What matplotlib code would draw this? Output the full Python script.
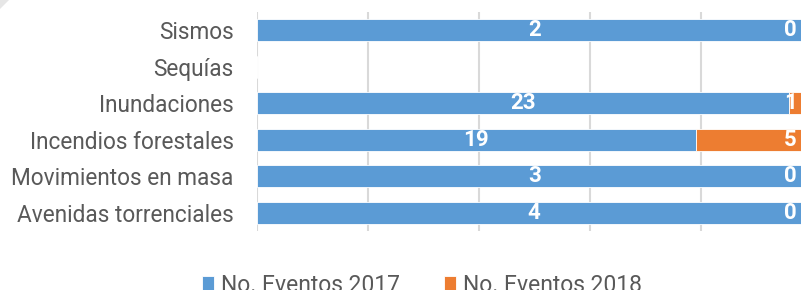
import matplotlib.pyplot as plt
from matplotlib.patches import Polygon
import numpy as np

# data (bottom to top as drawn)
categorias = ["Avenidas torrenciales", "Movimientos en masa", "Incendios forestales",
              "Inundaciones", "Sequías", "Sismos"]
eventos_2017 = [4, 3, 19, 23, 0, 2]
eventos_2018 = [0, 0, 5, 1, 0, 0]
series_labels = ["No. Eventos 2017", "No. Eventos 2018"]

azul = "#5b9bd5"
naranja = "#ed7d31"
gris = "#595959"

plt.rcParams['font.family'] = ['Roboto', 'DejaVu Sans']

fig = plt.figure(figsize=(8.01, 2.90), dpi=100)
# corner of the chart frame in the top-left
fig.patches.append(Polygon([[0, 1], [9 / 801, 1], [0, 1 - 9 / 290]], closed=True,
                           transform=fig.transFigure, facecolor="#e6e6e6",
                           edgecolor="none"))
ax = fig.add_axes([256.5 / 801, 59 / 290, 555.5 / 801, 219 / 290])

a = np.array(eventos_2017, dtype=float)
b = np.array(eventos_2018, dtype=float)
total = a + b
with np.errstate(invalid="ignore", divide="ignore"):
    pa = np.where(total > 0, a / total, 0)
    pb = np.where(total > 0, b / total, 0)

y = np.arange(len(categorias))
ax.barh(y, pa, height=0.6, color=azul, edgecolor="white", linewidth=0.6, zorder=2,
        label=series_labels[0])
ax.barh(y, pb, left=pa, height=0.6, color=naranja, edgecolor="white", linewidth=0.6,
        zorder=2, label=series_labels[1])

for i in range(len(categorias)):
    if total[i] == 0:
        continue
    ax.text(pa[i] / 2, y[i], str(eventos_2017[i]), ha="center", va="center",
            color="white", fontsize=16, fontweight="bold", zorder=3)
    ax.annotate(str(eventos_2018[i]), xy=(pa[i] + pb[i], y[i]), xytext=(-11, 0),
                textcoords="offset points", ha="right", va="center",
                color="white", fontsize=16, fontweight="bold", zorder=3)

ax.set_xlim(0, 1)
ax.set_ylim(-0.5, len(categorias) - 0.5)
ax.set_xticks(np.arange(0, 1.01, 0.2))
ax.xaxis.grid(True, color="#d9d9d9", linewidth=1.5, zorder=0)
ax.set_axisbelow(True)
ax.tick_params(axis="x", length=0, labelbottom=False)
ax.tick_params(axis="y", length=0, pad=16.5, labelsize=16.3, labelcolor=gris)
ax.set_yticks(y)
ax.set_yticklabels(categorias)
for s in ax.spines.values():
    s.set_visible(False)

fig.legend(loc="center", bbox_to_anchor=(422 / 801, 5 / 290), ncol=2, frameon=False,
           fontsize=16.5, labelcolor=gris, handlelength=0.55, handleheight=0.55,
           handletextpad=0.3, columnspacing=1.9)

fig.savefig("out.png", dpi=100)
